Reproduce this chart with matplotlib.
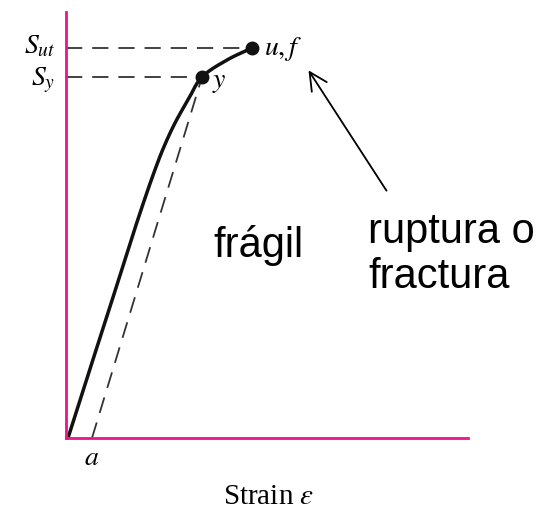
import matplotlib
matplotlib.use("Agg")
import matplotlib.pyplot as plt
import numpy as np

# Data (arbitrary strain / stress units)
strain = [2, 22, 42, 62, 74, 86, 97, 109, 122, 136, 161, 186]
stress = [0, 63, 125, 188, 225, 260, 289, 315, 338, 361, 378, 390]
yield_pt = (136, 361)
ult_pt = (186, 390)
offset_a = 26  # offset strain point a
S_ut = 390
S_y = 361

plt.rcParams['mathtext.fontset'] = 'stix'
MAG = '#E8158C'


def smooth(xs, ys, n=20):
    """Catmull-Rom curve through the given points (for drawing only)."""
    P = np.column_stack([xs, ys]).astype(float)
    P = np.vstack([2 * P[0] - P[1], P, 2 * P[-1] - P[-2]])
    out = []
    t = np.linspace(0, 1, n, endpoint=False)[:, None]
    for i in range(1, len(P) - 2):
        p0, p1, p2, p3 = P[i - 1], P[i], P[i + 1], P[i + 2]
        seg = 0.5 * ((2 * p1) + (-p0 + p2) * t + (2 * p0 - 5 * p1 + 4 * p2 - p3) * t ** 2
                     + (-p0 + 3 * p1 - 3 * p2 + p3) * t ** 3)
        out.append(seg)
    out.append(P[-2][None, :])
    out = np.vstack(out)
    return out[:, 0], out[:, 1]


fig = plt.figure(figsize=(5.44, 5.11), dpi=100)
ax = fig.add_axes([66/544, 73/511, 402/544, 426/511])
ax.set_xlim(0, 402)
ax.set_ylim(0, 426)
for s in ['top', 'right']:
    ax.spines[s].set_visible(False)
for s in ['left', 'bottom']:
    ax.spines[s].set_color(MAG)
    ax.spines[s].set_linewidth(2.0)
ax.set_xticks([])
ax.set_yticks([])

sx, sy = smooth(strain, stress)
ax.plot(sx, sy, color='#111111', lw=2.5, solid_capstyle='round', solid_joinstyle='round', clip_on=False)
ax.plot([offset_a, yield_pt[0]], [0, yield_pt[1]], color='#333333', lw=1.3, dashes=(9, 5.5), clip_on=False)
ax.plot([0, ult_pt[0]], [S_ut, S_ut], color='#333333', lw=1.3, dashes=(9, 5.5), clip_on=False)
ax.plot([0, yield_pt[0]], [S_y, S_y], color='#333333', lw=1.3, dashes=(9, 5.5), clip_on=False)
ax.plot([yield_pt[0], ult_pt[0]], [yield_pt[1], ult_pt[1]], 'o', color='#111111', ms=9, clip_on=False)

serif = 'Liberation Serif'
ax.text(-11, 385, r'$S_{ut}$', ha='right', va='baseline', fontsize=20, clip_on=False)
ax.text(-11, 353, r'$S_{y}$', ha='right', va='baseline', fontsize=20, clip_on=False)
ax.text(198, 383, r'$u, f$', ha='left', va='baseline', fontsize=20, clip_on=False)
ax.text(146, 351, r'$y$', ha='left', va='baseline', fontsize=20, clip_on=False)
ax.text(offset_a, -27, r'$a$', ha='center', va='baseline', fontsize=20, clip_on=False)
fig.text(269/544, 1 - 497/511, r'Strain $\epsilon$', ha='center', va='center', fontsize=21,
         family=serif)

sans = 'Liberation Sans'
ax.text(147, 193, 'frágil', ha='left', va='center', fontsize=30, family=sans)
ax.text(302, 206, 'ruptura o', ha='left', va='center', fontsize=30, family=sans)
ax.text(302, 161, 'fractura', ha='left', va='center', fontsize=30, family=sans)

ax.annotate('', xy=(241, 370), xytext=(322, 245),
            arrowprops=dict(arrowstyle='->', color='black', lw=1.3, mutation_scale=32),
            annotation_clip=False)

fig.savefig('out.png', dpi=100)
